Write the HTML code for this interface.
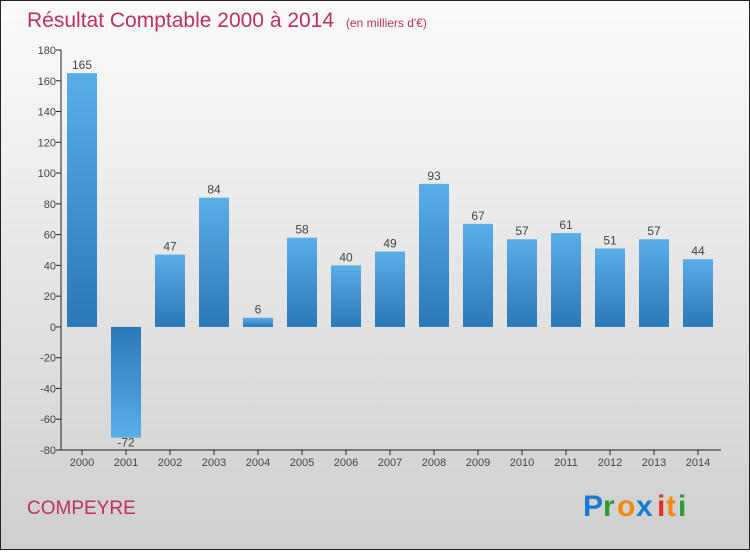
<!DOCTYPE html>
<html><head><meta charset="utf-8"><style>
body{margin:0;width:750px;height:550px;overflow:hidden;font-family:"Liberation Sans",sans-serif}
</style></head><body>
<svg id="c" width="750" height="550" xmlns="http://www.w3.org/2000/svg">
<defs>
<linearGradient id="bg" x1="0" y1="0" x2="0" y2="1"><stop offset="0" stop-color="#fbfbfb"/><stop offset="1" stop-color="#cfcfcf"/></linearGradient>
<linearGradient id="gp" x1="0" y1="0" x2="0" y2="1"><stop offset="0" stop-color="#5aaee8"/><stop offset="1" stop-color="#2a78b6"/></linearGradient>
<linearGradient id="gn" x1="0" y1="0" x2="0" y2="1"><stop offset="0" stop-color="#2a78b6"/><stop offset="1" stop-color="#5aaee8"/></linearGradient>
</defs>
<rect x="0.5" y="0.5" width="749" height="549" fill="url(#bg)" stroke="#222"/>
<text x="27" y="27" font-size="21" fill="#c0305a">Résultat Comptable 2000 à 2014 <tspan font-size="12" dx="6">(en milliers d'€)</tspan></text>
<g id="plot"></g>
<text x="27" y="514" font-size="19" fill="#c0305a">COMPEYRE</text>
<g font-size="30" font-weight="bold">
<text x="583" y="516" fill="#1a7ad0">P</text><text x="603" y="516" fill="#2a9a3a">r</text><text x="617" y="516" fill="#f08a10">o</text><text x="636" y="516" fill="#1a7ad0">x</text><text x="657" y="516" fill="#e03020">i</text><text x="666" y="516" fill="#f08a10">t</text><text x="678" y="516" fill="#2a9a3a">i</text>
</g>
</svg>
<script>
const years=["2000","2001","2002","2003","2004","2005","2006","2007","2008","2009","2010","2011","2012","2013","2014"];
const values=[165,-72,47,84,6,58,40,49,93,67,57,61,51,57,44];
const ticks=[-80,-60,-40,-20,0,20,40,60,80,100,120,140,160,180];
const NS="http://www.w3.org/2000/svg",g=document.getElementById('plot');
const y=v=>50+(180-v)*400/260, x=i=>82+i*44;
function el(t,a,txt){const e=document.createElementNS(NS,t);for(const k in a)e.setAttribute(k,a[k]);if(txt!=null)e.textContent=txt;g.appendChild(e);return e;}
ticks.forEach(t=>{
const l=el('line',{x1:56,x2:61,y1:y(t),y2:y(t),stroke:'#222'});


const tx=el('text',{x:56,y:y(t)+4,'font-size':11,fill:'#444','text-anchor':'end'},t);


});
values.forEach((v,i)=>{
const top=Math.min(y(v),y(0)),h=Math.abs(y(v)-y(0));
const r=el('rect',{x:x(i)-15,y:top,width:30,height:h,fill:v>=0?'url(#gp)':'url(#gn)'});


const lb=el('text',{x:x(i),y:v>=0?y(v)-4:y(v)+9,'font-size':12,fill:'#444','text-anchor':'middle'},v);


const tk=el('line',{x1:x(i),x2:x(i),y1:450,y2:455,stroke:'#222'});


const xl=el('text',{x:x(i),y:466,'font-size':11,fill:'#444','text-anchor':'middle'},years[i]);


});
const ya=el('line',{x1:61,x2:61,y1:50,y2:450,stroke:'#222'});


const xa=el('line',{x1:61,x2:721,y1:450,y2:450,stroke:'#222'});


</script>
</body></html>
